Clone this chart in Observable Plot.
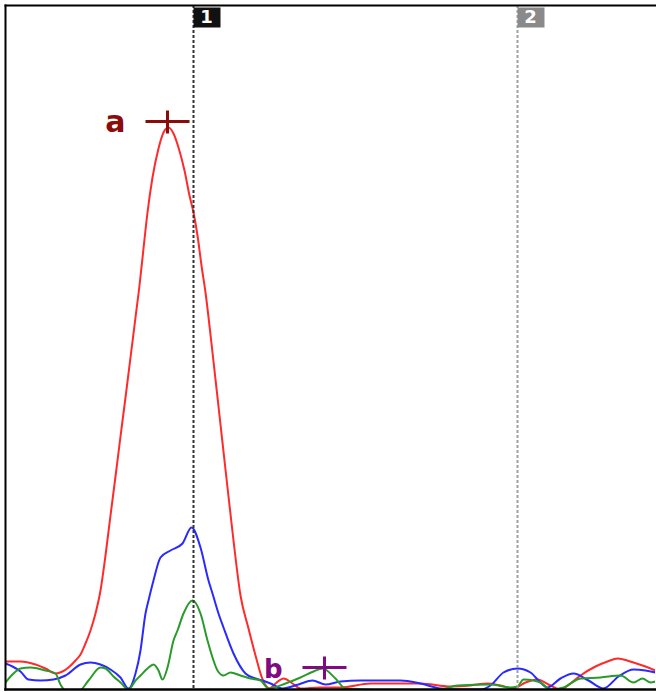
<!DOCTYPE html>
<html><head><meta charset="utf-8">
<script src="https://cdn.jsdelivr.net/npm/d3@7"></script>
<script src="https://cdn.jsdelivr.net/npm/@observablehq/plot@0.6"></script>
<style>html,body{margin:0;padding:0;background:#fff}</style>
</head><body><div id="chart"></div>
<script>
// Trace values (x = sample position, y = amplitude)
const redX = [0,15,30,40,50,57,63,70,75,80,85,90,95,100,105,110,115,120,125,130,134,138,142,147,153,158,163,168,173,179,184,188,192,196,200,207,214,221,228,235,243,250,256,261,264,270,278,287,295,315,335,365,415,445,465,482,495,508,520,532,543,555,565,575,590,602,612,628,640,650];
const redY = [28,28,25,21,16,18,22,29,35,46,59,76,99,134,174,213,253,292,332,372,404,441,477,512,541,557,562,556,542,519,494,477,454,424,397,337,274,211,149,94,61,34,13,3,1,6,11,6,1,2,2,6,6,3,4,6,4,1,7,10,5,0,6,14,23,28,31,27,23,19];

const blueX = [0,7,15,23,35,48,60,75,85,95,105,115,123,130,135,140,143,148,155,165,177,186,195,203,207,213,218,228,240,250,257,265,277,293,307,320,335,355,395,415,435,455,475,485,498,512,525,535,542,555,568,583,598,613,628,640,650];
const blueY = [26,23,18,10,9,10,14,25,27,25,20,12,1,16,39,76,89,109,132,139,146,162,142,109,96,76,62,36,16,11,9,6,1,5,9,5,8,9,9,6,1,0,0,4,17,21,17,7,2,11,16,9,1,13,20,19,17];

const greenX = [0,7,15,25,40,50,55,61,73,83,95,100,108,115,123,130,135,142,148,153,157,162,168,172,178,187,195,202,207,212,218,225,235,245,255,263,280,295,308,317,330,340,355,395,435,452,485,505,512,518,528,535,545,558,575,595,615,628,637,645,650];
const greenY = [7,15,21,22,19,16,5,-2,-2,9,22,21,13,7,0,9,14,21,25,19,10,22,49,59,76,89,76,49,32,19,14,17,14,11,9,1,6,12,18,21,11,1,0,-1,0,4,5,2,3,10,9,7,0,2,11,12,14,7,11,7,8];

// Cursors
const cursorLabels = ["1", "2"];
const cursorX = [188, 512];

// Peak markers
const peakLabels = ["a", "b"];
const peakX = [162, 319];
const peakY = [568, 22];

const yTop = 684;

const series = [
  {x: redX, y: redY, color: "#ff2a2a"},
  {x: blueX, y: blueY, color: "#2a2aff"},
  {x: greenX, y: greenY, color: "#2a9a2a"}
];
const cursorStyle = [
  {line: "#333333", box: "#111111", text: "#ffffff"},
  {line: "#a0a0a0", box: "#8a8a8a", text: "#ffffff"}
];
const peakStyle = [
  {color: "#8b0a0a", size: 30, dy: 1},
  {color: "#800a80", size: 26, dy: 2}
];

const crossSymbol = {
  draw(ctx) {
    ctx.moveTo(-22, 0); ctx.lineTo(22, 0);
    ctx.moveTo(0, -11); ctx.lineTo(0, 12);
  }
};
const boxSymbol = {
  draw(ctx) {
    ctx.moveTo(0, 2); ctx.lineTo(27, 2); ctx.lineTo(27, 22); ctx.lineTo(0, 22); ctx.closePath();
  }
};

const marks = [];
series.forEach(s => {
  const data = s.x.map((x, i) => ({x, y: s.y[i]}));
  marks.push(Plot.line(data, {x: "x", y: "y", stroke: s.color, strokeWidth: 2, curve: "monotone-x", clip: true}));
});
cursorX.forEach((cx, i) => {
  const st = cursorStyle[i];
  marks.push(Plot.ruleX([cx], {stroke: st.line, strokeWidth: 2, strokeDasharray: "3,2"}));
  marks.push(Plot.dot([{x: cx, y: yTop}], {x: "x", y: "y", symbol: boxSymbol, fill: st.box, stroke: "none"}));
  marks.push(Plot.text([{x: cx, y: yTop, t: cursorLabels[i]}], {x: "x", y: "y", text: "t", fill: st.text, fontSize: 18, fontWeight: "bold", fontFamily: "DejaVu Sans", dx: 13, dy: 12}));
});
peakX.forEach((px, i) => {
  const st = peakStyle[i];
  const d = [{x: px, y: peakY[i], t: peakLabels[i]}];
  marks.push(Plot.dot(d, {x: "x", y: "y", symbol: crossSymbol, stroke: st.color, strokeWidth: 3, fill: "none"}));
  marks.push(Plot.text(d, {x: "x", y: "y", text: "t", fill: st.color, fontSize: st.size, fontWeight: "bold", fontFamily: "DejaVu Sans", textAnchor: "end", dx: -42, dy: st.dy}));
});
marks.push(Plot.frame({anchor: "top", stroke: "#000", strokeWidth: 2}));
marks.push(Plot.frame({anchor: "left", stroke: "#000", strokeWidth: 2}));
marks.push(Plot.frame({anchor: "bottom", stroke: "#000", strokeWidth: 2.5}));

const chart = Plot.plot({
  width: 656,
  height: 692,
  marginLeft: 5,
  marginRight: 1,
  marginTop: 5,
  marginBottom: 3,
  x: {domain: [0, 650], axis: null},
  y: {domain: [0, yTop], axis: null},
  style: {background: "#fff"},
  marks
});
document.getElementById("chart").appendChild(chart);
</script>
</body></html>
